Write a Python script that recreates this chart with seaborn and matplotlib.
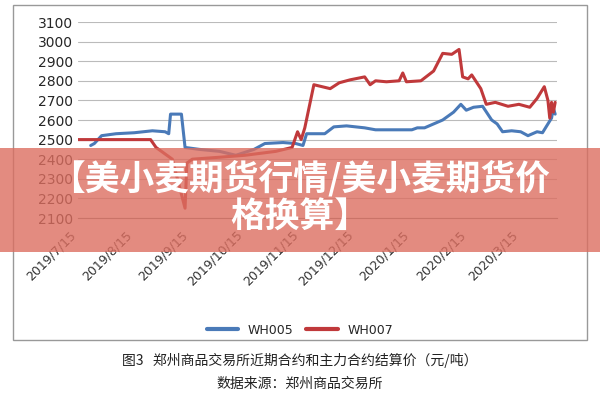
import matplotlib
matplotlib.use("Agg")
import matplotlib.pyplot as plt
import seaborn as sns
import pandas as pd
from matplotlib.patches import Rectangle
from matplotlib.lines import Line2D

wh005_dates = ["2019-07-22","2019-07-24","2019-07-28","2019-08-05","2019-08-15","2019-08-25","2019-09-01","2019-09-03","2019-09-04","2019-09-10","2019-09-12","2019-09-20","2019-10-01","2019-10-10","2019-10-20","2019-10-26","2019-11-05","2019-11-12","2019-11-16","2019-11-18","2019-11-28","2019-12-03","2019-12-10","2019-12-20","2019-12-26","2020-01-05","2020-01-15","2020-01-18","2020-01-22","2020-02-01","2020-02-07","2020-02-11","2020-02-14","2020-02-18","2020-02-23","2020-02-28","2020-03-02","2020-03-05","2020-03-10","2020-03-15","2020-03-19","2020-03-24","2020-03-27","2020-03-30","2020-04-01","2020-04-02","2020-04-03"]
wh005_vals = [2470,2480,2520,2530,2535,2545,2540,2530,2630,2630,2460,2450,2440,2420,2450,2480,2485,2480,2470,2530,2530,2565,2570,2560,2550,2550,2550,2560,2560,2600,2640,2680,2650,2665,2670,2600,2580,2540,2545,2540,2520,2540,2535,2580,2610,2660,2630]

wh007_dates = ["2019-07-15","2019-08-01","2019-08-24","2019-08-27","2019-09-05","2019-09-12","2019-09-13","2019-09-16","2019-10-01","2019-10-15","2019-11-01","2019-11-10","2019-11-13","2019-11-15","2019-11-17","2019-11-22","2019-12-01","2019-12-06","2019-12-12","2019-12-20","2019-12-23","2019-12-26","2020-01-01","2020-01-08","2020-01-10","2020-01-12","2020-01-20","2020-01-27","2020-02-01","2020-02-06","2020-02-10","2020-02-12","2020-02-15","2020-02-17","2020-02-22","2020-02-25","2020-03-01","2020-03-08","2020-03-14","2020-03-20","2020-03-24","2020-03-28","2020-03-30","2020-03-31","2020-04-01","2020-04-02","2020-04-03"]
wh007_vals = [2500,2500,2500,2460,2400,2150,2380,2400,2410,2420,2440,2460,2540,2500,2560,2780,2760,2790,2805,2820,2780,2800,2795,2800,2840,2795,2800,2850,2940,2935,2960,2820,2810,2830,2760,2680,2690,2670,2680,2665,2710,2770,2700,2610,2690,2640,2690]

tick_dates = ["2019-07-15","2019-08-15","2019-09-15","2019-10-15","2019-11-15","2019-12-15","2020-01-15","2020-02-15","2020-03-15"]
tick_labels = ["2019/7/15","2019/8/15","2019/9/15","2019/10/15","2019/11/15","2019/12/15","2020/1/15","2020/2/15","2020/3/15"]

df = pd.concat([
    pd.DataFrame({"date": pd.to_datetime(wh005_dates), "price": wh005_vals, "series": "WH005"}),
    pd.DataFrame({"date": pd.to_datetime(wh007_dates), "price": wh007_vals, "series": "WH007"}),
])

sns.set_style("white")
plt.rcParams['font.family'] = ['DejaVu Sans', 'Noto Sans CJK SC']
fig = plt.figure(figsize=(6, 4), dpi=100)
fig.patches.append(Rectangle((13/600, 60/400), 574/600, 335/400, transform=fig.transFigure,
                             fill=False, edgecolor="#999999", lw=1))
ax = fig.add_axes([78/600, 182/400, 479/600, 196/400])
sns.lineplot(data=df, x="date", y="price", hue="series", palette={"WH005": "#4a7ab8", "WH007": "#c0393b"},
             lw=2.2, ax=ax, legend=False)
ax.set_ylim(2100, 3100)
ax.set_xlim(pd.Timestamp("2019-07-15"), pd.Timestamp("2020-04-04"))
ax.set_yticks(range(2100, 3101, 100))
ax.tick_params(axis="y", labelsize=10, length=0)
ax.set_xticks(pd.to_datetime(tick_dates))
ax.set_xticklabels(tick_labels, rotation=45, ha="right", fontsize=9, color="#333333")
ax.tick_params(axis="x", length=4, color="#888888")
ax.grid(axis="y", color="#bbbbbb", lw=0.8)
ax.set_xlabel(""); ax.set_ylabel("")
for s in ["top", "right", "left"]:
    ax.spines[s].set_visible(False)
ax.spines["bottom"].set_color("#888888")

handles = [Line2D([], [], color="#4a7ab8", lw=3), Line2D([], [], color="#c0393b", lw=3)]
fig.legend(handles, ["WH005", "WH007"], loc="center", bbox_to_anchor=(0.5, 70/400), ncol=2,
           frameon=False, fontsize=9, handlelength=2.5, columnspacing=1.0)

cjk = ["Noto Sans CJK SC", "DejaVu Sans"]
fig.text(0.5, 40/400, "图3   郑州商品交易所近期合约和主力合约结算价（元/吨）", ha="center", va="center",
         fontsize=10, family=cjk, color="#222222")
fig.text(0.5, 16/400, "数据来源：郑州商品交易所", ha="center", va="center",
         fontsize=10, family=cjk, color="#222222")

fig.patches.append(Rectangle((0, 148/400), 1, 104/400, transform=fig.transFigure,
                             facecolor="#dc6e60", alpha=0.8, edgecolor="none", zorder=10))
fig.text(0.5, 222/400, "【美小麦期货行情/美小麦期货价", ha="center", va="center", fontsize=25,
         fontweight="bold", color="white", family=cjk, zorder=11)
fig.text(0.5, 183/400, "格换算】", ha="center", va="center", fontsize=25,
         fontweight="bold", color="white", family=cjk, zorder=11)

fig.savefig("out.png", dpi=100)
